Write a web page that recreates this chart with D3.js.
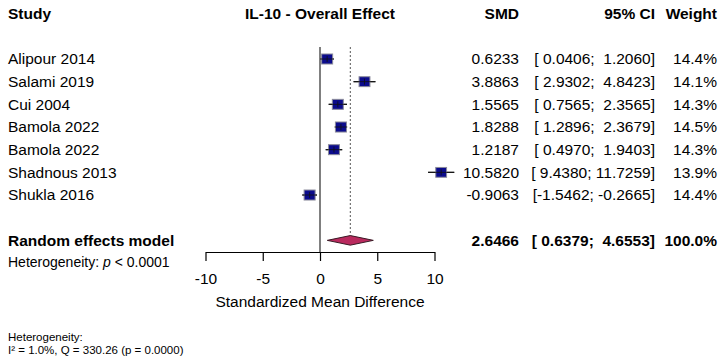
<!DOCTYPE html>
<html><head><meta charset="utf-8">
<script src="https://cdn.jsdelivr.net/npm/d3@7"></script>
<style>
html,body{margin:0;padding:0;background:#fff;}
svg text{font-family:"Liberation Sans",Arial,sans-serif;white-space:pre;}
</style></head>
<body><svg id="c" width="725" height="362"></svg>
<script>
const studies = ["Alipour 2014","Salami 2019","Cui 2004","Bamola 2022","Bamola 2022","Shadnous 2013","Shukla 2016"];
const smd =   [0.6233, 3.8863, 1.5565, 1.8288, 1.2187, 10.5820, -0.9063];
const lower = [0.0406, 2.9302, 0.7565, 1.2896, 0.4970, 9.4380, -1.5462];
const upper = [1.2060, 4.8423, 2.3565, 2.3679, 1.9403, 11.7259, -0.2665];
const weights = [14.4, 14.1, 14.3, 14.5, 14.3, 13.9, 14.4];
const pooled = {label:"Random effects model", smd:2.6466, lower:0.6379, upper:4.6553, weight:100.0};
const xTicks = [-10,-5,0,5,10];
const headers = {study:"Study", title:"IL-10 - Overall Effect", smd:"SMD", ci:"95% CI", weight:"Weight"};
const hetLine = "Heterogeneity: ";
const hetP = "< 0.0001";
const footer = ["Heterogeneity:", "I\u00b2 = 1.0%, Q = 330.26 (p = 0.0000)"];
const xLabel = "Standardized Mean Difference";

const loc = d3.formatLocale({decimal:".", thousands:",", grouping:[3], currency:["",""], minus:"-"});
const svg = d3.select("#c");
const x = d3.scaleLinear().domain([-10,10]).range([205.5,434.5]);
const rowY = d3.scaleLinear().domain([0,1]).range([59, 81.67]);
const fsz = 15.5;
const f4 = loc.format(".4f");
const fci = loc.format(">7.4f");
const fTick = loc.format("d");
const ciStr = (l,u) => "[" + fci(l) + "; " + fci(u) + "]";
const colSMD = 519, colCI = 655, colW = 717, colStudy = 8;

const hy = rowY(-2);
function txt(xp, yp, s, opts={}) {
  return svg.append("text").attr("x", xp).attr("y", yp).attr("dy","0.35em")
    .attr("font-size", opts.size||fsz).attr("font-weight", opts.bold?"bold":"normal")
    .attr("text-anchor", opts.anchor||"start").attr("fill","#000").text(s);
}
txt(colStudy, hy, headers.study, {bold:true});
txt(x(0), hy, headers.title, {bold:true, anchor:"middle"});
txt(colSMD, hy, headers.smd, {bold:true, anchor:"end"});
txt(colCI, hy, headers.ci, {bold:true, anchor:"end"});
txt(colW, hy, headers.weight, {bold:true, anchor:"end"});

const pooledY = rowY(8);
const axisY = 252;

svg.append("line").attr("x1",x(0)).attr("x2",x(0)).attr("y1",47).attr("y2",axisY)
  .attr("stroke","#000").attr("stroke-width",1);
svg.append("line").attr("x1",x(pooled.smd)).attr("x2",x(pooled.smd)).attr("y1",47).attr("y2",pooledY-5)
  .attr("stroke","#555").attr("stroke-width",1).attr("stroke-dasharray","2,2");

const sq = d3.scaleSqrt().domain([0,14.4]).range([0,11]);
studies.forEach((s,i) => {
  const y = rowY(i);
  txt(colStudy, y, s);
  svg.append("line").attr("x1",x(lower[i])).attr("x2",x(upper[i])).attr("y1",y).attr("y2",y)
    .attr("stroke","#222").attr("stroke-width",1.3);
  const w = sq(weights[i]);
  svg.append("rect").attr("x",x(smd[i])-w/2).attr("y",y-w/2+0.5).attr("width",w).attr("height",w-1)
    .attr("fill","#0b0b8c").attr("stroke","#8a8a9a").attr("stroke-width",1);
  svg.append("line").attr("x1",x(lower[i])).attr("x2",x(upper[i])).attr("y1",y).attr("y2",y)
    .attr("stroke","#111").attr("stroke-width",0.8);
  svg.append("line").attr("x1",x(smd[i])).attr("x2",x(smd[i])).attr("y1",y-3).attr("y2",y+3)
    .attr("stroke","#111").attr("stroke-width",0.8);
  txt(colSMD, y, f4(smd[i]), {anchor:"end"});
  txt(colCI, y, ciStr(lower[i],upper[i]), {anchor:"end"});
  txt(colW, y, weights[i].toFixed(1)+"%", {anchor:"end"});
});

txt(colStudy, pooledY, pooled.label, {bold:true});
const dh = 4.8;
svg.append("path")
  .attr("d", `M${x(pooled.lower)},${pooledY}L${x(pooled.smd)},${pooledY-dh}L${x(pooled.upper)},${pooledY}L${x(pooled.smd)},${pooledY+dh}Z`)
  .attr("fill","#b92a5e").attr("stroke","#3a1a25").attr("stroke-width",1);
txt(colSMD, pooledY, f4(pooled.smd), {anchor:"end", bold:true});
txt(colCI, pooledY, ciStr(pooled.lower,pooled.upper), {anchor:"end", bold:true});
txt(colW, pooledY, pooled.weight.toFixed(1)+"%", {anchor:"end", bold:true});

const ht = svg.append("text").attr("x",colStudy).attr("y",262).attr("dy","0.35em").attr("font-size",14).attr("fill","#000");
ht.append("tspan").text(hetLine);
ht.append("tspan").attr("font-style","italic").text("p");
ht.append("tspan").text(" " + hetP);

const ax = svg.append("g").attr("transform",`translate(0,${axisY})`)
  .call(d3.axisBottom(x).tickValues(xTicks).tickFormat(fTick).tickSize(9).tickPadding(12).tickSizeOuter(0));
ax.select(".domain").attr("stroke","#000").attr("stroke-width",1.2);
ax.selectAll(".tick line").attr("stroke","#000").attr("stroke-width",1.2);
ax.selectAll(".tick text").attr("font-size",fsz).attr("font-family","Liberation Sans, Arial, sans-serif").attr("fill","#000");
txt(x(0), 302, xLabel, {anchor:"middle"});

footer.forEach((s,i) => {
  svg.append("text").attr("x",colStudy).attr("y",341 + i*12.5).attr("font-size",11.5).attr("fill","#000").text(s);
});
</script></body></html>
